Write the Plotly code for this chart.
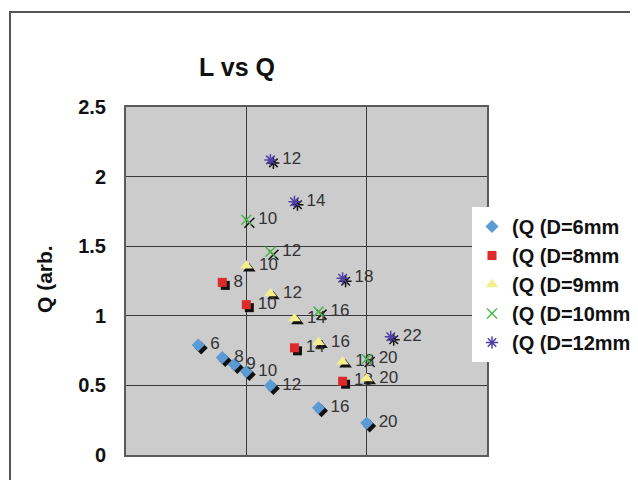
import plotly.graph_objects as go

# ---- data ----
series_names = ["(Q (D=6mm", "(Q (D=8mm", "(Q (D=9mm", "(Q (D=10mm", "(Q (D=12mm"]
L6 = [6, 8, 9, 10, 12, 16, 20]
Q6 = [0.79, 0.70, 0.65, 0.60, 0.50, 0.34, 0.23]
L8 = [8, 10, 14, 18]
Q8 = [1.24, 1.08, 0.77, 0.53]
L9 = [10, 12, 14, 16, 18, 20]
Q9 = [1.36, 1.16, 0.98, 0.81, 0.67, 0.55]
L10 = [10, 12, 16, 20]
Q10 = [1.69, 1.46, 1.03, 0.69]
L12 = [12, 14, 18, 22]
Q12 = [2.12, 1.82, 1.27, 0.85]
x_ticks = [0, 10, 20, 30]
y_ticks = [0, 0.5, 1, 1.5, 2, 2.5]

xs = [L6, L8, L9, L10, L12]
ys = [Q6, Q8, Q9, Q10, Q12]

# ---- styles ----
colors = ["#5b9bd5", "#dd2a2a", "#f4ef8a", "#4cb84c", "#4f3fa8"]
symbols = ["diamond", "square", "triangle-up", "x-thin-open", "asterisk-open"]
sizes = [10, 9, 11, 10, 10]
FONT = "Liberation Sans, Arial, sans-serif"

OFF = 8  # page body margin
W, H = 638 - OFF, 480 - OFF
ML = 126 - OFF
MT = 107 - OFF
MR = W - (487 - OFF)
MB = H - (455 - OFF)
PW = W - ML - MR
PH = H - MT - MB
XR = [0, 30]
YR = [0, 2.5]
SH = 3  # shadow offset in px
dx = SH * (XR[1] - XR[0]) / PW
dy = SH * (YR[1] - YR[0]) / PH


def px_x(p):
    return (p - OFF - ML) / PW


def px_y(p):
    return (MT + PH - (p - OFF)) / PH


fig = go.Figure()

# shadows (main hidden axes, shifted ranges)
for i in range(5):
    open_sym = symbols[i].endswith("open")
    fig.add_trace(go.Scatter(
        x=xs[i], y=ys[i], mode="markers", showlegend=False, hoverinfo="skip",
        marker=dict(symbol=symbols[i], size=sizes[i], color="#111111",
                    line=dict(width=1.5 if open_sym else 0, color="#111111")),
        xaxis="x", yaxis="y"))

# coloured markers with labels (overlay axes with the true ranges)
for i in range(5):
    open_sym = symbols[i].endswith("open")
    fig.add_trace(go.Scatter(
        x=xs[i], y=ys[i], mode="markers+text", name=series_names[i],
        legendgroup=series_names[i],
        text=[" " + str(v) for v in xs[i]], textposition="middle right",
        textfont=dict(family=FONT, size=17, color="#333333"),
        marker=dict(symbol=symbols[i], size=sizes[i], color=colors[i],
                    line=dict(width=1.5 if open_sym else 0, color=colors[i])),
        xaxis="x2", yaxis="y2"))

fig.update_layout(
    width=W, height=H,
    margin=dict(l=ML, r=MR, t=MT, b=MB, autoexpand=False),
    paper_bgcolor="white",
    plot_bgcolor="#cccccc",
    font=dict(family=FONT, color="#111111"),
    title=dict(text="L vs Q", x=px_x(237), xref="paper", xanchor="center",
               y=1 - (67 - OFF) / H, yref="container", yanchor="middle",
               font=dict(family=FONT, size=25, weight="bold", color="#111111")),
    xaxis=dict(range=[XR[0] - dx, XR[1] - dx], visible=False, fixedrange=True),
    yaxis=dict(range=[YR[0] + dy, YR[1] + dy], visible=False, fixedrange=True),
    xaxis2=dict(range=XR, overlaying="x", anchor="y2", side="bottom",
                tickvals=x_ticks, showgrid=True, gridcolor="#3a3a3a", gridwidth=1,
                zeroline=False, showline=True, linecolor="#5a5a5a", linewidth=2,
                mirror=True, ticks="outside", ticklen=16, tickcolor="rgba(0,0,0,0)",
                tickfont=dict(family=FONT, size=20, weight="bold", color="#111111")),
    yaxis2=dict(range=YR, overlaying="y", anchor="x2", side="left",
                tickvals=y_ticks, showgrid=True, gridcolor="#3a3a3a", gridwidth=1,
                zeroline=False, showline=True, linecolor="#5a5a5a", linewidth=2,
                mirror=True, ticks="", ticklabelstandoff=14,
                tickfont=dict(family=FONT, size=20, weight="bold", color="#111111")),
    legend=dict(x=px_x(472), y=px_y(207), xanchor="left", yanchor="top",
                bgcolor="white", borderwidth=0, tracegroupgap=0,
                font=dict(family=FONT, size=20, weight="bold", color="#111111")),
    annotations=[dict(text="Q (arb.", textangle=-90, showarrow=False,
                      xref="paper", yref="paper",
                      x=px_x(44), y=px_y(279),
                      xanchor="center", yanchor="middle",
                      font=dict(family=FONT, size=21, weight="bold", color="#111111"))],
    shapes=[dict(type="rect", xref="paper", yref="paper",
                 x0=px_x(10), x1=1.6, y0=-0.5, y1=px_y(12),
                 line=dict(color="#555555", width=2), fillcolor="rgba(0,0,0,0)")],
)

fig.write_html("out.html")
